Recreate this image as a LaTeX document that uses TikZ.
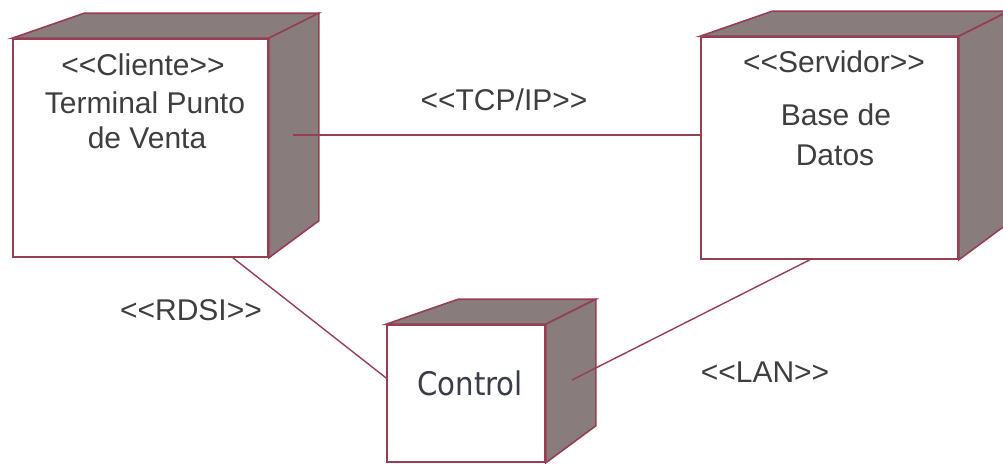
\documentclass[tikz,border=0pt]{standalone}
\usepackage{fontspec}
\setmainfont{Liberation Sans}
\newfontfamily\ctrlfont[FakeStretch=0.9]{DejaVu Sans}
\usetikzlibrary{calc}
\definecolor{edge}{RGB}{150,62,82}
\definecolor{shade}{RGB}{136,124,125}
\definecolor{ink}{RGB}{62,62,62}

% stereotype brackets, kept apart so they are not joined into guillemets
\newcommand\stl{<\kern0pt<}
\newcommand\str{>\kern0pt>}

% extruded faces (top and right side) of a UML deployment node
\newcommand\nodedepth[1]{%
  \filldraw[depth] (#1.north west) -- ++(72,-25) -- ($(#1.north east)+(50,-25)$) -- (#1.north east) -- cycle;
  \filldraw[depth] (#1.north east) -- ++(50,-25) -- ($(#1.south east)+(50,-37)$) -- (#1.south east) -- cycle;
}

\begin{document}
\begin{tikzpicture}[x=1pt,y=-1pt,
  face/.style={draw=edge, line width=1.6pt, fill=white, rectangle, inner sep=0pt},
  depth/.style={draw=edge, line width=1.6pt, fill=shade, line join=miter},
  link/.style={draw=edge, line width=1.4pt},
  lbl/.style={text=ink, font=\fontsize{30}{34}\selectfont, inner sep=0pt, anchor=base}
]
\useasboundingbox (0,0) rectangle (1003,463);
\begin{scope}
\clip (0,0) rectangle (1003,463);

% front faces
\node[face, minimum width=255pt, minimum height=218pt] (term) at (140.5,148) {};
\node[face, minimum width=257pt, minimum height=222pt] (base) at (829.5,148) {};
\node[face, minimum width=158pt, minimum height=137pt] (ctrl) at (466,393.5) {};

\nodedepth{term}
\nodedepth{base}
\nodedepth{ctrl}

% connector ends lying on the shaded sides
\coordinate (tcpA) at (293,135);
\coordinate (rdsiA) at ($(term.south west)!0.86!(term.south east)$);
\coordinate (rdsiB) at ($(ctrl.west)+(0,-15.5)$);
\coordinate (lanA) at ($(base.south west)!0.424!(base.south east)$);
\coordinate (lanB) at (572,380);

\draw[link] (tcpA) -- (tcpA -| base.west);
\draw[link] (rdsiA) -- (rdsiB);
\draw[link] (lanA) -- (lanB);

% texts
\node[lbl] (t1) at (143,75) {\stl Cliente\str};
\node[lbl] (t2) at (145,113) {Terminal Punto};
\node[lbl] (t3) at (147,148) {de Venta};
\node[lbl] (s1) at (834,72) {\stl Servidor\str};
\node[lbl] (s2) at (836,125) {Base de};
\node[lbl] (s3) at (835,165) {Datos};
\node[lbl] (tcp) at (504,110) {\stl TCP/IP\str};
\node[lbl] (rdsi) at (191,320) {\stl RDSI\str};
\node[lbl] (lan) at (765,382) {\stl LAN\str};
\node[lbl, font=\ctrlfont\fontsize{32.5}{36}\selectfont, text={rgb,255:red,58;green,60;blue,70}] (c1) at (470,395) {Control};
\end{scope}
\end{tikzpicture}
\end{document}
